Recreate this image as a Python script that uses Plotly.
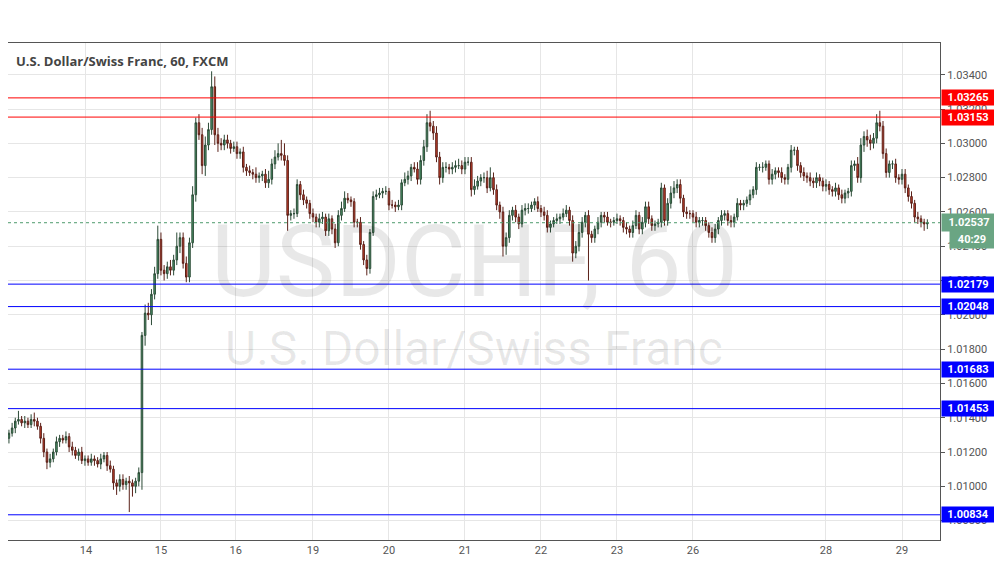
import plotly.graph_objects as go

# hourly closes, USD/CHF
closes = [
    1.0131, 1.0134, 1.0138, 1.0139, 1.0137, 1.0138, 1.0136, 1.0139, 1.0138, 1.0135,
    1.0128, 1.0120, 1.0114, 1.0116, 1.0120, 1.0126, 1.0128, 1.0127, 1.0129, 1.0123,
    1.0121, 1.0118, 1.0120, 1.0115, 1.0116, 1.0114, 1.0116, 1.0115, 1.0113, 1.0116,
    1.0118, 1.0112, 1.0110, 1.0102, 1.0100, 1.0104, 1.0101, 1.0103, 1.0102, 1.0100,
    1.0103, 1.0108, 1.0188, 1.0201, 1.0200, 1.0212, 1.0224, 1.0244, 1.0226, 1.0224,
    1.0228, 1.0226, 1.0232, 1.0240, 1.0245, 1.0230, 1.0222, 1.0242, 1.0270, 1.0312,
    1.0305, 1.0287, 1.0299, 1.0308, 1.0333, 1.0305, 1.0300, 1.0299, 1.0302, 1.0300,
    1.0297, 1.0298, 1.0294, 1.0295, 1.0286, 1.0284, 1.0283, 1.0282, 1.0280, 1.0281,
    1.0282, 1.0277, 1.0279, 1.0288, 1.0292, 1.0294, 1.0293, 1.0290, 1.0258, 1.0259,
    1.0259, 1.0276, 1.0270, 1.0267, 1.0265, 1.0259, 1.0257, 1.0254, 1.0256, 1.0257,
    1.0249, 1.0256, 1.0250, 1.0242, 1.0258, 1.0262, 1.0268, 1.0267, 1.0266, 1.0254,
    1.0254, 1.0241, 1.0232, 1.0227, 1.0248, 1.0269, 1.0270, 1.0271, 1.0272, 1.0272,
    1.0264, 1.0264, 1.0263, 1.0264, 1.0277, 1.0279, 1.0281, 1.0286, 1.0285, 1.0279,
    1.0290, 1.0298, 1.0312, 1.0310, 1.0306, 1.0292, 1.0280, 1.0286, 1.0286, 1.0285,
    1.0286, 1.0287, 1.0287, 1.0285, 1.0289, 1.0289, 1.0273, 1.0275, 1.0278, 1.0280,
    1.0280, 1.0274, 1.0280, 1.0273, 1.0264, 1.0260, 1.0240, 1.0245, 1.0258, 1.0261,
    1.0257, 1.0253, 1.0261, 1.0262, 1.0262, 1.0264, 1.0266, 1.0262, 1.0260, 1.0258,
    1.0251, 1.0253, 1.0255, 1.0256, 1.0257, 1.0259, 1.0261, 1.0255, 1.0236, 1.0240,
    1.0248, 1.0254, 1.0258, 1.0247, 1.0245, 1.0250, 1.0254, 1.0258, 1.0257, 1.0254,
    1.0254, 1.0255, 1.0256, 1.0255, 1.0251, 1.0250, 1.0248, 1.0252, 1.0258, 1.0250,
    1.0254, 1.0263, 1.0256, 1.0252, 1.0253, 1.0254, 1.0274, 1.0255, 1.0265, 1.0271,
    1.0274, 1.0276, 1.0268, 1.0260, 1.0259, 1.0259, 1.0257, 1.0254, 1.0255, 1.0255,
    1.0252, 1.0248, 1.0245, 1.0250, 1.0255, 1.0258, 1.0259, 1.0255, 1.0254, 1.0257,
    1.0265, 1.0264, 1.0265, 1.0267, 1.0270, 1.0273, 1.0286, 1.0286, 1.0286, 1.0288,
    1.0279, 1.0282, 1.0284, 1.0283, 1.0280, 1.0279, 1.0286, 1.0296, 1.0296, 1.0287,
    1.0283, 1.0281, 1.0280, 1.0278, 1.0277, 1.0280, 1.0278, 1.0275, 1.0276, 1.0273,
    1.0272, 1.0274, 1.0270, 1.0268, 1.0271, 1.0272, 1.0287, 1.0288, 1.0280, 1.0299,
    1.0304, 1.0302, 1.0300, 1.0303, 1.0312, 1.0310, 1.0294, 1.0283, 1.0288, 1.0288,
    1.0280, 1.0279, 1.0282, 1.0274, 1.0269, 1.0265, 1.0257, 1.0256, 1.0254, 1.0253,
    1.02537,
]
first_open = 1.0128

# wick lengths in pips
upper_wick = [
    2, 3, 2, 5, 2, 3, 2, 3, 4, 2,  2, 3, 2, 3, 2, 3, 2, 2, 3, 2,
    3, 2, 2, 3, 2, 2, 3, 2, 2, 3,  2, 2, 3, 2, 2, 3, 3, 2, 3, 2,
    2, 3, 2, 5, 6, 3, 4, 8, 4, 3,  3, 4, 3, 8, 3, 3, 4, 3, 5, 3,
    5, 4, 5, 4, 9, 6, 4, 3, 3, 3,  2, 3, 3, 2, 3, 2, 3, 2, 4, 2,
    2, 3, 5, 3, 4, 6, 8, 7, 3, 2,  3, 3, 2, 3, 2, 2, 3, 2, 3, 3,
    2, 3, 2, 3, 3, 4, 4, 3, 2, 2,  2, 3, 2, 3, 2, 3, 3, 3, 2, 3,
    2, 3, 2, 3, 2, 4, 3, 2, 3, 4,  3, 4, 5, 7, 3, 4, 3, 3, 3, 2,
    3, 3, 4, 3, 3, 3, 3, 4, 3, 2,  3, 4, 6, 3, 3, 2, 3, 3, 3, 2,
    3, 2, 3, 3, 3, 2, 2, 3, 2, 3,  3, 2, 2, 3, 2, 3, 3, 2, 3, 3,
    5, 3, 2, 3, 2, 2, 3, 2, 2, 3,  2, 2, 3, 2, 2, 3, 2, 3, 3, 2,
    3, 3, 3, 2, 2, 2, 3, 2, 3, 4,  4, 3, 3, 2, 3, 2, 2, 3, 2, 2,
    2, 2, 3, 3, 2, 3, 2, 2, 3, 2,  3, 2, 2, 2, 3, 2, 3, 2, 3, 2,
    2, 3, 2, 2, 3, 2, 2, 3, 2, 2,  2, 3, 2, 3, 2, 3, 2, 2, 3, 2,
    2, 3, 2, 3, 2, 2, 3, 2, 4, 4,  3, 4, 3, 3, 5, 7, 3, 3, 2, 2,
    3, 2, 3, 3, 2, 3, 2, 3, 2, 2,  2,
]
lower_wick = [
    3, 2, 3, 2, 2, 3, 2, 2, 3, 2,  3, 3, 4, 3, 2, 2, 3, 2, 2, 3,
    3, 2, 3, 2, 3, 2, 2, 3, 2, 3,  2, 3, 2, 4, 5, 3, 3, 3, 17, 6,
    4, 3, 10, 6, 3, 6, 3, 3, 3, 4,  3, 3, 3, 3, 4, 3, 3, 3, 3, 4,
    3, 5, 6, 3, 3, 6, 5, 3, 3, 3,  3, 2, 3, 3, 3, 3, 2, 3, 3, 3,
    3, 3, 3, 3, 3, 2, 3, 3, 9, 3,  3, 2, 3, 3, 3, 3, 3, 3, 3, 3,
    3, 3, 3, 3, 2, 3, 2, 2, 3, 3,  3, 3, 3, 4, 3, 2, 2, 2, 3, 2,
    3, 2, 3, 2, 3, 2, 3, 3, 2, 3,  3, 3, 3, 3, 4, 3, 4, 3, 3, 3,
    3, 3, 2, 3, 3, 2, 4, 3, 2, 3,  3, 3, 2, 3, 3, 4, 6, 5, 3, 3,
    3, 3, 2, 3, 3, 2, 3, 2, 3, 3,  3, 3, 2, 2, 3, 2, 2, 3, 5, 3,
    3, 3, 3, 27, 3, 3, 3, 3, 3, 2,  3, 2, 2, 3, 3, 3, 3, 3, 2, 3,
    3, 3, 3, 3, 3, 2, 3, 3, 3, 3,  3, 3, 3, 3, 3, 3, 3, 3, 3, 3,
    3, 3, 3, 3, 3, 3, 3, 3, 3, 3,  2, 3, 3, 2, 3, 2, 3, 2, 3, 2,
    3, 3, 3, 3, 3, 3, 3, 3, 3, 3,  3, 3, 3, 3, 3, 3, 3, 3, 3, 3,
    3, 3, 3, 3, 3, 3, 3, 3, 3, 3,  4, 4, 4, 3, 3, 3, 3, 3, 3, 3,
    3, 3, 3, 3, 3, 3, 3, 3, 3, 4,  3,
]

day_labels = ["13", "14", "15", "16", "19", "20", "21", "22", "23", "26", "28", "29"]
day_pos = [0, 24.3, 48, 71.6, 96, 120, 144, 168, 192, 216, 258, 282]

level_prices = [1.03265, 1.03153, 1.02179, 1.02048, 1.01683, 1.01453, 1.00834]
level_colors = ["#ff0000", "#ff0000", "#0000ff", "#0000ff", "#0000ff", "#0000ff", "#0000ff"]
last_price = 1.02537

opens = [first_open] + closes[:-1]
highs = [max(o, c) + u * 1e-4 for o, c, u in zip(opens, closes, upper_wick)]
lows = [min(o, c) - d * 1e-4 for o, c, d in zip(opens, closes, lower_wick)]
idx = list(range(len(closes)))

fig = go.Figure(go.Candlestick(
    x=idx, open=opens, high=highs, low=lows, close=closes,
    increasing=dict(fillcolor="#4e9a6c", line=dict(color="#2b4a36", width=1)),
    decreasing=dict(fillcolor="#d0402c", line=dict(color="#5a2018", width=1)),
    whiskerwidth=0, showlegend=False, hoverinfo="skip",
))

for p, c in zip(level_prices, level_colors):
    fig.add_hline(y=p, line=dict(color=c, width=1))
    fig.add_annotation(x=1, xref="paper", y=p, yref="y", xanchor="left", xshift=1,
                       text="<b>%.5f</b>" % p, showarrow=False, bgcolor=c,
                       font=dict(color="white", size=11, family="Roboto"),
                       width=52, height=15, borderpad=0)

fig.add_hline(y=last_price, line=dict(color="#4e9a6c", width=1, dash="dot"))
fig.add_annotation(x=1, xref="paper", y=last_price, yref="y", xanchor="left", xshift=1,
                   text="<b>%.5f</b>" % last_price, showarrow=False, bgcolor="#6aa583",
                   font=dict(color="white", size=11, family="Roboto"), width=52, height=15)
fig.add_annotation(x=1, xref="paper", y=last_price, yref="y", xanchor="left", xshift=9,
                   yshift=-17, text="<b>40:29</b>", showarrow=False, bgcolor="#6aa583",
                   font=dict(color="white", size=11, family="Roboto"), width=42, height=15)

# watermark
fig.add_annotation(x=0.5, y=0.56, xref="paper", yref="paper", text="USDCHF, 60",
                   showarrow=False, font=dict(size=100, color="rgba(0,0,0,0.09)", family="Roboto"))
fig.add_annotation(x=0.5, y=0.385, xref="paper", yref="paper", text="U.S. Dollar/Swiss Franc",
                   showarrow=False, font=dict(size=48, color="rgba(0,0,0,0.09)", family="Roboto"))
fig.add_annotation(x=0.006, y=0.985, xref="paper", yref="paper", xanchor="left", yanchor="top",
                   text="<b>U.S. Dollar/Swiss Franc, 60, FXCM</b>", showarrow=False,
                   font=dict(size=13, color="#444", family="Open Sans"))

fig.update_layout(
    width=994, height=557,
    margin=dict(l=0, r=62, t=35, b=25),
    paper_bgcolor="white", plot_bgcolor="white",
    xaxis=dict(range=[-0.3, 294], tickvals=day_pos, ticktext=day_labels,
               showgrid=True, gridcolor="#e6e6e6", rangeslider=dict(visible=False),
               tickfont=dict(size=11, color="#555", family="Roboto"),
               showline=True, linecolor="#555", mirror=True, zeroline=False),
    yaxis=dict(range=[1.00687, 1.03585], side="right", dtick=0.002, tick0=1.008,
               tickformat=".5f", showgrid=True, gridcolor="#e6e6e6",
               tickfont=dict(size=11, color="#555", family="Roboto"),
               showline=True, linecolor="#555", mirror=True, zeroline=False,
               ticks="outside", ticklen=4, tickcolor="#555"),
)

fig.write_html("out.html")
